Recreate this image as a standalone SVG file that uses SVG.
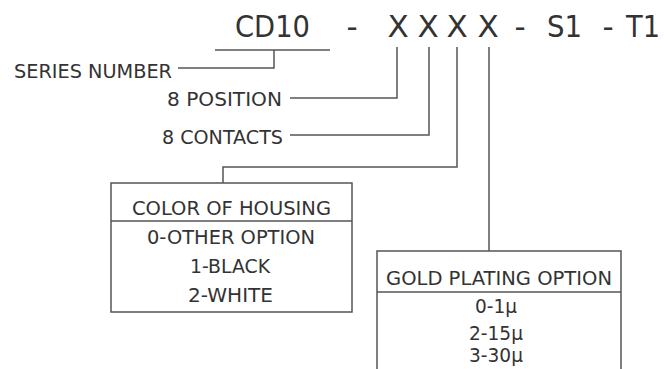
<svg xmlns="http://www.w3.org/2000/svg" width="664" height="369" viewBox="0 0 664 369">
<style>
text{font-family:"DejaVu Sans",sans-serif;fill:#333}
.t{font-size:31px;text-anchor:middle}
.l{font-size:19px}
.c{font-size:19px;text-anchor:middle}
.ln{fill:none;stroke:#555;stroke-width:1.5}
</style>
<rect width="664" height="369" fill="#fff"/>
<g id="title">
<text class="t" x="272.5" y="37" textLength="75" lengthAdjust="spacingAndGlyphs">CD10</text>
<text class="t" x="352" y="37">-</text>
<text class="t" x="398" y="37">X</text>
<text class="t" x="428" y="37">X</text>
<text class="t" x="457" y="37">X</text>
<text class="t" x="488" y="37">X</text>
<text class="t" x="520" y="37">-</text>
<text class="t" x="564.5" y="37" textLength="35" lengthAdjust="spacingAndGlyphs">S1</text>
<text class="t" x="608" y="37">-</text>
<text class="t" x="643" y="37" textLength="34" lengthAdjust="spacingAndGlyphs">T1</text>
</g>
<g id="series"><text class="l" x="14" y="78" textLength="158" lengthAdjust="spacingAndGlyphs">SERIES NUMBER</text></g>
<g id="position"><text class="l" x="167" y="106" textLength="115" lengthAdjust="spacingAndGlyphs">8 POSITION</text></g>
<g id="contacts"><text class="l" x="162" y="144" textLength="121" lengthAdjust="spacingAndGlyphs">8 CONTACTS</text></g>
<g id="housing">
<rect class="ln" x="111" y="183" width="241" height="129"/>
<line class="ln" x1="111" y1="221" x2="352" y2="221"/>
<text class="c" x="231.5" y="215" textLength="199" lengthAdjust="spacingAndGlyphs">COLOR OF HOUSING</text>
<text class="c" x="231" y="244" textLength="168" lengthAdjust="spacingAndGlyphs">0-OTHER OPTION</text>
<text class="c" x="230" y="273" textLength="80" lengthAdjust="spacingAndGlyphs">1-BLACK</text>
<text class="c" x="230.5" y="302" textLength="85" lengthAdjust="spacingAndGlyphs">2-WHITE</text>
</g>
<g id="gold">
<path class="ln" d="M377,370 V251 H621 V370"/>
<line class="ln" x1="377" y1="292" x2="621" y2="292"/>
<text class="c" x="499" y="285" textLength="226" lengthAdjust="spacingAndGlyphs">GOLD PLATING OPTION</text>
<text class="c" x="496" y="313" textLength="42" lengthAdjust="spacingAndGlyphs">0-1μ</text>
<text class="c" x="496" y="340" textLength="54" lengthAdjust="spacingAndGlyphs">2-15μ</text>
<text class="c" x="496" y="362" textLength="54" lengthAdjust="spacingAndGlyphs">3-30μ</text>
</g>
<g id="connectors">
<line class="ln" x1="215" y1="50" x2="330" y2="50"/>
<path class="ln" d="M274,50 V68 H178"/>
<path class="ln" d="M397,47 V98 H290"/>
<path class="ln" d="M429,47 V135 H290"/>
<path class="ln" d="M457,47 V167 H223 V183"/>
<path class="ln" d="M489,47 V251"/>
</g>
</svg>
